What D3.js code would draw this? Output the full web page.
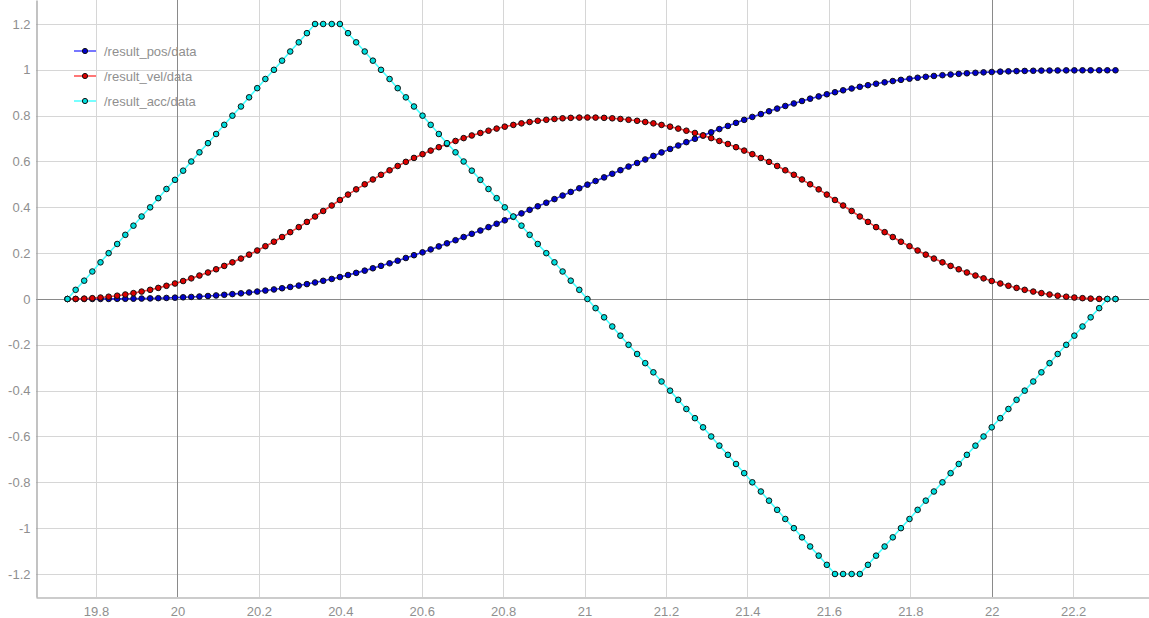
<!DOCTYPE html>
<html>
<head>
<meta charset="utf-8">
<script src="https://cdn.jsdelivr.net/npm/d3@7"></script>
<style>
  html, body { margin: 0; padding: 0; background: #ffffff; }
  svg { display: block; font-family: "Liberation Sans", Arial, sans-serif; }
</style>
</head>
<body>
<svg id="chart" width="1149" height="618"></svg>
<script>
// ---- data ----
const seriesNames = ["/result_pos/data", "/result_vel/data", "/result_acc/data"];

const timeStamps = [
19.730,19.750,19.771,19.791,19.811,19.831,19.852,19.872,19.892,19.912,
19.933,19.953,19.973,19.994,20.014,20.034,20.054,20.075,20.095,20.115,
20.135,20.156,20.176,20.196,20.216,20.237,20.257,20.277,20.298,20.318,
20.338,20.358,20.379,20.399,20.419,20.439,20.460,20.480,20.500,20.521,
20.541,20.561,20.581,20.602,20.622,20.642,20.662,20.683,20.703,20.723,
20.744,20.764,20.784,20.804,20.825,20.845,20.865,20.885,20.906,20.926,
20.946,20.966,20.987,21.007,21.027,21.048,21.068,21.088,21.108,21.129,
21.149,21.169,21.189,21.210,21.230,21.250,21.271,21.291,21.311,21.331,
21.352,21.372,21.392,21.412,21.433,21.453,21.473,21.493,21.514,21.534,
21.554,21.575,21.595,21.615,21.635,21.656,21.676,21.696,21.716,21.737,
21.757,21.777,21.798,21.818,21.838,21.858,21.879,21.899,21.919,21.939,
21.960,21.980,22.000,22.021,22.041,22.061,22.081,22.102,22.122,22.142,
22.162,22.183,22.203,22.223,22.243,22.264,22.284,22.304];

const posValues = [
0.00000,0.00000,0.00002,0.00007,0.00017,0.00033,0.00058,0.00091,0.00137,0.00194,
0.00267,0.00355,0.00461,0.00586,0.00732,0.00900,0.01092,0.01310,0.01555,0.01829,
0.02133,0.02470,0.02840,0.03245,0.03686,0.04167,0.04687,0.05249,0.05854,0.06504,
0.07200,0.07944,0.08736,0.09576,0.10464,0.11398,0.12377,0.13399,0.14463,0.15566,
0.16709,0.17887,0.19102,0.20349,0.21629,0.22939,0.24278,0.25644,0.27036,0.28452,
0.29890,0.31349,0.32827,0.34323,0.35834,0.37361,0.38899,0.40450,0.42009,0.43577,
0.45151,0.46730,0.48312,0.49896,0.51480,0.53062,0.54641,0.56215,0.57783,0.59342,
0.60893,0.62431,0.63958,0.65469,0.66965,0.68443,0.69902,0.71340,0.72756,0.74148,
0.75514,0.76853,0.78163,0.79443,0.80690,0.81905,0.83083,0.84226,0.85329,0.86393,
0.87415,0.88394,0.89328,0.90216,0.91056,0.91848,0.92592,0.93288,0.93938,0.94543,
0.95105,0.95625,0.96106,0.96547,0.96952,0.97322,0.97659,0.97963,0.98237,0.98482,
0.98700,0.98892,0.99060,0.99206,0.99331,0.99437,0.99525,0.99598,0.99655,0.99701,
0.99734,0.99759,0.99775,0.99785,0.99790,0.99792,0.99792,0.99792];

const velValues = [
0,0.0004,0.0016,0.0036,0.0064,0.01,0.0144,0.0196,0.0256,0.0324,
0.04,0.0484,0.0576,0.0676,0.0784,0.09,0.1024,0.1156,0.1296,0.1444,
0.16,0.1764,0.1936,0.2116,0.2304,0.25,0.2704,0.2916,0.3136,0.3364,
0.36,0.384,0.408,0.432,0.4556,0.4784,0.5004,0.5216,0.542,0.5616,
0.5804,0.5984,0.6156,0.632,0.6476,0.6624,0.6764,0.6896,0.702,0.7136,
0.7244,0.7344,0.7436,0.752,0.7596,0.7664,0.7724,0.7776,0.782,0.7856,
0.7884,0.7904,0.7916,0.792,0.7916,0.7904,0.7884,0.7856,0.782,0.7776,
0.7724,0.7664,0.7596,0.752,0.7436,0.7344,0.7244,0.7136,0.702,0.6896,
0.6764,0.6624,0.6476,0.632,0.6156,0.5984,0.5804,0.5616,0.542,0.5216,
0.5004,0.4784,0.4556,0.432,0.408,0.384,0.36,0.3364,0.3136,0.2916,
0.2704,0.25,0.2304,0.2116,0.1936,0.1764,0.16,0.1444,0.1296,0.1156,
0.1024,0.09,0.0784,0.0676,0.0576,0.0484,0.04,0.0324,0.0256,0.0196,
0.0144,0.01,0.0064,0.0036,0.0016,0.0004,0,0];

const accValues = [
0,0.04,0.08,0.12,0.16,0.2,0.24,0.28,0.32,0.36,
0.4,0.44,0.48,0.52,0.56,0.6,0.64,0.68,0.72,0.76,
0.8,0.84,0.88,0.92,0.96,1.0,1.04,1.08,1.12,1.16,
1.2,1.2,1.2,1.2,1.16,1.12,1.08,1.04,1.0,0.96,
0.92,0.88,0.84,0.8,0.76,0.72,0.68,0.64,0.6,0.56,
0.52,0.48,0.44,0.4,0.36,0.32,0.28,0.24,0.2,0.16,
0.12,0.08,0.04,0,-0.04,-0.08,-0.12,-0.16,-0.2,-0.24,
-0.28,-0.32,-0.36,-0.4,-0.44,-0.48,-0.52,-0.56,-0.6,-0.64,
-0.68,-0.72,-0.76,-0.8,-0.84,-0.88,-0.92,-0.96,-1.0,-1.04,
-1.08,-1.12,-1.16,-1.2,-1.2,-1.2,-1.2,-1.16,-1.12,-1.08,
-1.04,-1.0,-0.96,-0.92,-0.88,-0.84,-0.8,-0.76,-0.72,-0.68,
-0.64,-0.6,-0.56,-0.52,-0.48,-0.44,-0.4,-0.36,-0.32,-0.28,
-0.24,-0.2,-0.16,-0.12,-0.08,-0.04,0,0];

const xTickValues = [19.8, 20, 20.2, 20.4, 20.6, 20.8, 21, 21.2, 21.4, 21.6, 21.8, 22, 22.2];
const xTickLabels = ["19.8","20","20.2","20.4","20.6","20.8","21","21.2","21.4","21.6","21.8","22","22.2"];
const yTickValues = [-1.2, -1, -0.8, -0.6, -0.4, -0.2, 0, 0.2, 0.4, 0.6, 0.8, 1, 1.2];
const yTickLabels = ["-1.2","-1","-0.8","-0.6","-0.4","-0.2","0","0.2","0.4","0.6","0.8","1","1.2"];
const xMajorLines = [20, 22];
const yMajorLines = [0];

// ---- styles ----
const lineColors   = ["#1a1aff", "#ff2a2a", "#33ffff"];
const markerFills  = ["#0000cc", "#dd0000", "#00dddd"];
const legendLines  = ["#7777ff", "#ff7777", "#77ffff"];

const W = 1149, H = 618;
const plot = { left: 36, right: 1149, top: 0, bottom: 597 };

const x = d3.scaleLinear().domain([19.6526, 22.3863]).range([plot.left, plot.right]);
const y = d3.scaleLinear().domain([-1.3004, 1.3047]).range([plot.bottom, plot.top]);

const svg = d3.select("#chart");

// grid
const grid = svg.append("g");
grid.selectAll("line.vx").data(xTickValues).enter().append("line")
  .attr("x1", d => Math.round(x(d)) + 0.5).attr("x2", d => Math.round(x(d)) + 0.5)
  .attr("y1", plot.top).attr("y2", plot.bottom)
  .attr("stroke", "#d6d6d6").attr("stroke-width", 1);
grid.selectAll("line.hy").data(yTickValues).enter().append("line")
  .attr("x1", plot.left).attr("x2", plot.right)
  .attr("y1", d => Math.round(y(d)) + 0.5).attr("y2", d => Math.round(y(d)) + 0.5)
  .attr("stroke", "#d6d6d6").attr("stroke-width", 1);
grid.selectAll("line.mx").data(xMajorLines).enter().append("line")
  .attr("x1", d => Math.round(x(d)) + 0.5).attr("x2", d => Math.round(x(d)) + 0.5)
  .attr("y1", plot.top).attr("y2", plot.bottom)
  .attr("stroke", "#8a8a8a").attr("stroke-width", 1);
grid.selectAll("line.my").data(yMajorLines).enter().append("line")
  .attr("x1", plot.left).attr("x2", plot.right)
  .attr("y1", d => Math.round(y(d)) + 0.5).attr("y2", d => Math.round(y(d)) + 0.5)
  .attr("stroke", "#8a8a8a").attr("stroke-width", 1);

// axes
const xAxis = d3.axisBottom(x).tickValues(xTickValues)
  .tickFormat((d, i) => xTickLabels[i]).tickSize(0).tickPadding(9);
const yAxis = d3.axisLeft(y).tickValues(yTickValues)
  .tickFormat((d, i) => yTickLabels[i]).tickSize(0).tickPadding(6);

const gx = svg.append("g").attr("transform", `translate(0,${plot.bottom + 0.5})`).call(xAxis);
const gy = svg.append("g").attr("transform", `translate(${plot.left + 0.5},0)`).call(yAxis);
[gx, gy].forEach(g => {
  g.select(".domain").attr("stroke", "#9a9a9a").attr("stroke-width", 1.2);
  g.selectAll("text").attr("fill", "#8f8f8f").style("font-size", "13px")
    .style("font-family", "\"Liberation Sans\", Arial, sans-serif");
});

// series
const seriesData = [posValues, velValues, accValues];
const order = [2, 1, 0]; // draw acc first so pos sits on top like the reference? keep pos on top
const lineGen = d3.line().x(d => x(d[0])).y(d => y(d[1]));

const plotG = svg.append("g");
[0, 1, 2].forEach(s => {
  const pts = timeStamps.map((t, i) => [t, seriesData[s][i]]);
  const g = plotG.append("g");
  g.append("path").datum(pts)
    .attr("d", lineGen).attr("fill", "none")
    .attr("stroke", lineColors[s]).attr("stroke-width", 1.6).attr("stroke-opacity", 0.9);
  g.selectAll("circle").data(pts).enter().append("circle")
    .attr("cx", d => x(d[0])).attr("cy", d => y(d[1])).attr("r", 2.8)
    .attr("fill", markerFills[s]).attr("stroke", "#111").attr("stroke-width", 1);
});

// legend
const legendY = [51, 76, 101];
const lg = svg.append("g");
seriesNames.forEach((name, s) => {
  const yy = legendY[s];
  lg.append("line").attr("x1", 74).attr("x2", 96).attr("y1", yy).attr("y2", yy)
    .attr("stroke", legendLines[s]).attr("stroke-width", 2);
  lg.append("circle").attr("cx", 85).attr("cy", yy).attr("r", 2.6)
    .attr("fill", markerFills[s]).attr("stroke", "#111").attr("stroke-width", 1);
  lg.append("text").attr("x", 104).attr("y", yy + 4.5).text(name)
    .attr("fill", "#8f8f8f").style("font-size", "13px");
});
</script>
</body>
</html>
